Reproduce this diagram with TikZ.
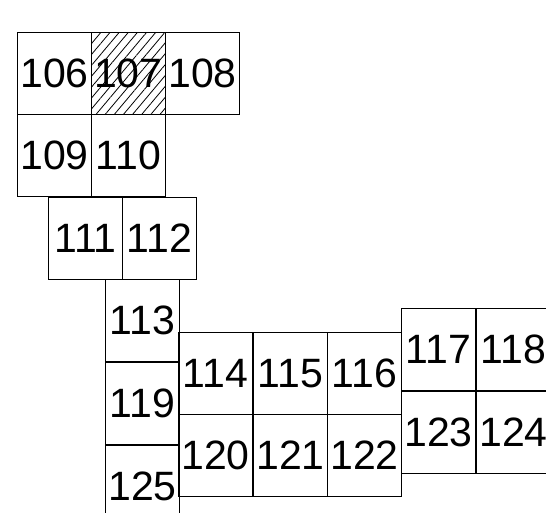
\documentclass[tikz,border=0pt]{standalone}
\usepackage{fontspec}
\setmainfont{Liberation Sans}
\usetikzlibrary{patterns.meta}
\begin{document}
\begin{tikzpicture}[x=1pt,y=-1pt,
  cell/.style={draw=black,line width=1pt,anchor=north west,inner sep=0pt,
    minimum width=74pt,minimum height=82pt,font=\fontsize{41}{41}\selectfont},
  hatched/.style={pattern={Lines[angle=50,distance=7pt,line width=0.8pt]}}]
\useasboundingbox (0,0) rectangle (546,512);
\clip (0,0) rectangle (546,512);
\node[cell] (n106) at (17,32) {106};
\node[cell,hatched] (n107) at (91,32) {107};
\node[cell] (n108) at (165,32) {108};
\node[cell] (n109) at (17,114) {109};
\node[cell] (n110) at (91,114) {110};
\node[cell] (n111) at (48,197) {111};
\node[cell] (n112) at (122,197) {112};
\node[cell] (n113) at (105,279) {113};
\node[cell] (n119) at (105,362) {119};
\node[cell] (n125) at (105,445) {125};
\node[cell] (n114) at (178,332) {114};
\node[cell] (n115) at (253,332) {115};
\node[cell] (n116) at (327,332) {116};
\node[cell] (n120) at (178,414) {120};
\node[cell] (n121) at (253,414) {121};
\node[cell] (n122) at (327,414) {122};
\node[cell] (n117) at (401,308) {117};
\node[cell] (n118) at (476,308) {118};
\node[cell] (n123) at (401,391) {123};
\node[cell] (n124) at (476,391) {124};
\end{tikzpicture}
\end{document}
